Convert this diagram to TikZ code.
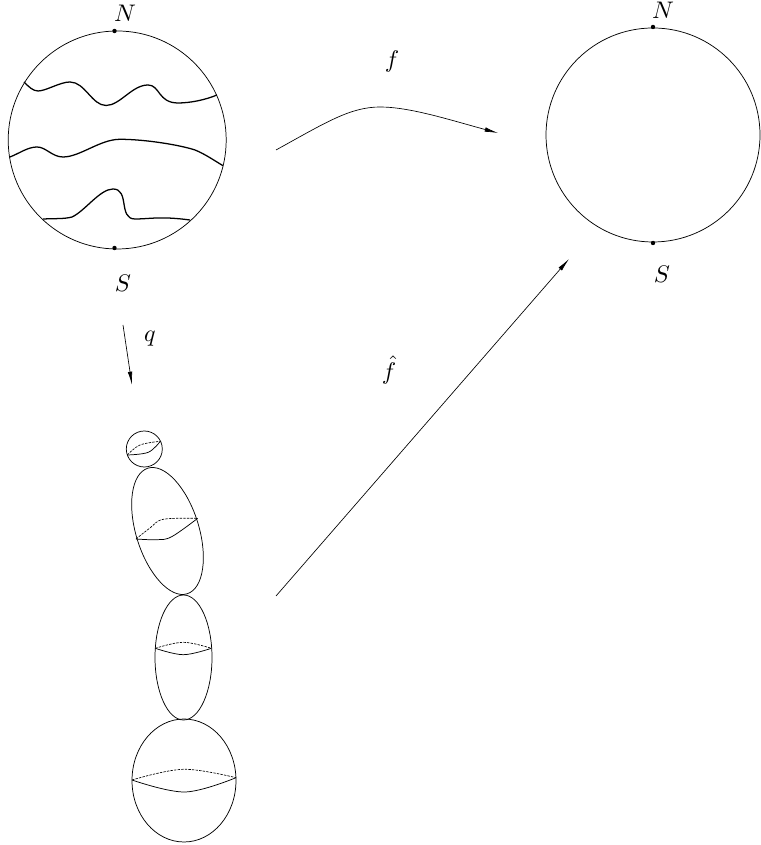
\documentclass[tikz,border=0pt]{standalone}
\usepackage{tikz}
\usetikzlibrary{arrows.meta}
\tikzset{
    outline/.style={line width=0.55pt},
    wavy/.style={line width=0.95pt},
    fold/.style={line width=0.55pt},
    hidden/.style={line width=0.5pt, dash pattern=on 1.8pt off 0.9pt},
    mapto/.style={line width=0.5pt, -{Latex[length=10pt,width=3.4pt]}},
    lab/.style={scale=1.8, inner sep=1pt},
}
\begin{document}
\begin{tikzpicture}[x=0.75pt,y=0.75pt]
    \useasboundingbox (0,0) rectangle (760,845);
    % Sphere de gauche
    \draw[outline] (117.2,705) circle (109);
    \fill (114.5,814) circle (2.2);
    \fill (114.5,597) circle (2.2);
    \node[lab] (nl) at (125,832) {$N$};
    \node[lab] (sl) at (123,562) {$S$};
    % Courbes
    \draw[wavy] (24,763) .. controls (29,758) and (33,754) .. (38,754) .. controls (46,754) and (60,763) .. (70,763) .. controls (85,763) and (92,739.5) .. (106,739.5) .. controls (120,739.5) and (132,760) .. (148,760) .. controls (160,760) and (158,742) .. (178,742) .. controls (190,742) and (205,745) .. (217,750);
    \draw[wavy] (10,688) .. controls (20,692) and (28,698) .. (37,698) .. controls (46,698) and (52,688) .. (63,688) .. controls (80,688) and (100,705.7) .. (120,705.7) .. controls (145,705.7) and (180,700) .. (195,695) .. controls (205,691) and (215,684) .. (223,679.3);
    \draw[wavy] (43,626) .. controls (55,626.5) and (65,626) .. (72,628) .. controls (85,634) and (100,656) .. (113,656) .. controls (130,656) and (118,626) .. (135,626) .. controls (150,626) and (160,629) .. (190,625);
    % Sphere de droite
    \draw[outline] (653,710) circle (107);
    \fill (653,818) circle (2.2);
    \fill (653,602) circle (2.2);
    \node[lab] (nr) at (663,834.5) {$N$};
    \node[lab] (sr) at (662,571) {$S$};
    % Bouquet
    \draw[outline] (144.3,396) circle (18);
    \draw[outline, rotate around={17.4:(167.5,314)}] (167.5,314) ellipse [x radius=31.4, y radius=65.8];
    \draw[outline] (183.5,187.5) ellipse [x radius=28.5, y radius=62.5];
    \draw[outline] (184,64.5) ellipse [x radius=52, y radius=61.5];
    % Equateurs
    \draw[fold] plot[smooth, tension=0.6] coordinates {(127.3,390) (148.3,392.7) (160.3,403.7)};
    \draw[hidden] plot[smooth, tension=0.6] coordinates {(127.3,390) (140,400) (160.3,403.7)};
    \draw[fold] plot[smooth, tension=0.6] coordinates {(136,306) (156.7,305.3) (171.7,308.3) (197.7,326.7)};
    \draw[hidden] plot[smooth, tension=0.6] coordinates {(136,306) (150,317) (163.3,325.7) (197.7,326.7)};
    \draw[fold] plot[smooth, tension=0.6] coordinates {(155.3,196.7) (183.3,190.3) (211.3,196.7)};
    \draw[hidden] plot[smooth, tension=0.6] coordinates {(155.3,196.7) (183.3,202.7) (211.3,196.7)};
    \draw[fold] plot[smooth, tension=0.6] coordinates {(132,65) (185,53) (236,67.3)};
    \draw[hidden] plot[smooth, tension=0.6] coordinates {(132,65) (183.3,75.7) (236,67.3)};
    % Fleches
    \coordinate (fa) at (276,695);
    \coordinate (fb) at (498,712);
    \coordinate (qa) at (123,520);
    \coordinate (qb) at (132,460);
    \coordinate (ha) at (276,249);
    \coordinate (hb) at (569,586);
    \draw[mapto] (fa) .. controls (325,722) and (350,738) .. (380,738) .. controls (410,738) and (450,725) .. (fb);
    \draw[mapto] (qa) -- (qb);
    \draw[mapto] (ha) -- (hb);
    \node[lab] (fl) at (392,783) {$f$};
    \node[lab] (ql) at (150,506) {$q$};
    \node[lab] (hl) at (389,475) {$\hat f$};
\end{tikzpicture}
\end{document}
